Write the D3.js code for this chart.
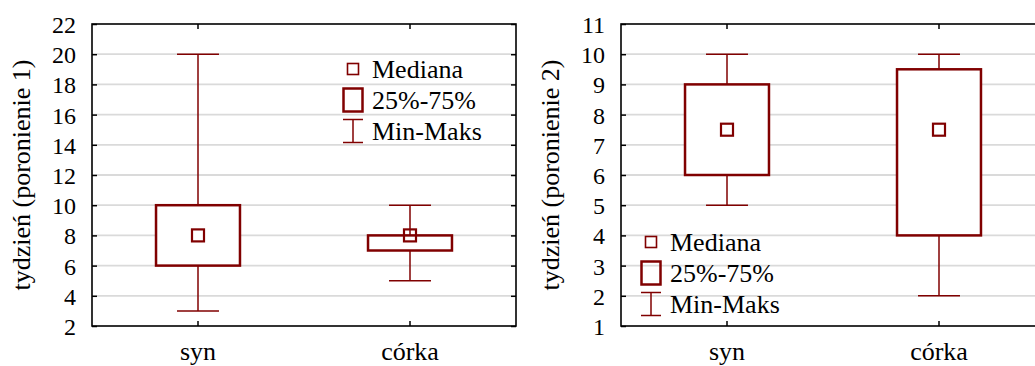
<!DOCTYPE html>
<html>
<head>
<meta charset="utf-8">
<script src="https://cdn.jsdelivr.net/npm/d3@7"></script>
</head>
<body style="margin:0">
<svg id="chart" width="1035" height="366"></svg>
<script>
// Categories shared by both panels
const categories = ["syn", "córka"];

// Panel 1: week of first miscarriage
const title1 = "tydzień (poronienie 1)";
const ticks1 = [2, 4, 6, 8, 10, 12, 14, 16, 18, 20, 22];
const min1 = [3, 5];
const q1_1 = [6, 7];
const median1 = [8, 8];
const q3_1 = [10, 8];
const max1 = [20, 10];

// Panel 2: week of second miscarriage
const title2 = "tydzień (poronienie 2)";
const ticks2 = [1, 2, 3, 4, 5, 6, 7, 8, 9, 10, 11];
const min2 = [5, 2];
const q1_2 = [6, 4];
const median2 = [7.5, 7.5];
const q3_2 = [9, 9.5];
const max2 = [10, 10];

// Legend entries
const legendLabels = ["Mediana", "25%-75%", "Min-Maks"];

const RED = "#800000";
const svg = d3.select("#chart");

// every label is placed straight on the svg root
function label(str, x, y, size, anchor, rotate) {
  const t = svg.append("text")
    .attr("x", x).attr("y", y)
    .attr("font-size", size)
    .attr("text-anchor", anchor || "start")
    .style("font-family", '"Liberation Serif", monospace')
    .text(str);
  if (rotate) t.attr("transform", `rotate(${rotate},${x},${y})`);
  return t;
}

function panel(opts) {
  const left = opts.left, top = 24, width = 424, height = 302;
  const g = svg.append("g");

  const y = d3.scaleLinear()
    .domain([opts.ticks[0], opts.ticks[opts.ticks.length - 1]])
    .range([top + height, top]);
  const x = d3.scaleBand().domain(categories).range([left, left + width]).padding(0);
  const cx = c => x(c) + x.bandwidth() / 2;

  // horizontal grid
  g.append("g").selectAll("line")
    .data(opts.ticks.slice(1, -1))
    .join("line")
    .attr("x1", left).attr("x2", left + width)
    .attr("y1", d => y(d)).attr("y2", d => y(d))
    .attr("stroke", "#dadada").attr("stroke-width", 1.8);

  const rows = categories.map((c, i) => ({
    c, min: opts.min[i], q1: opts.q1[i], med: opts.median[i], q3: opts.q3[i], max: opts.max[i]
  }));

  const boxW = x.bandwidth() * 0.396;
  const capW = x.bandwidth() * 0.198;
  const medS = 12;

  const bx = g.append("g").selectAll("g").data(rows).join("g");
  // whisker stem
  bx.append("line")
    .attr("x1", d => cx(d.c)).attr("x2", d => cx(d.c))
    .attr("y1", d => y(d.max)).attr("y2", d => y(d.min))
    .attr("stroke", RED).attr("stroke-width", 1.5);
  // caps
  bx.selectAll("line.cap")
    .data(d => [d.min, d.max].map(v => ({ c: d.c, v })))
    .join("line").attr("class", "cap")
    .attr("x1", d => cx(d.c) - capW / 2).attr("x2", d => cx(d.c) + capW / 2)
    .attr("y1", d => y(d.v)).attr("y2", d => y(d.v))
    .attr("stroke", RED).attr("stroke-width", 1.5);
  // interquartile box
  bx.append("rect")
    .attr("x", d => cx(d.c) - boxW / 2)
    .attr("y", d => y(d.q3))
    .attr("width", boxW)
    .attr("height", d => y(d.q1) - y(d.q3))
    .attr("fill", "#fff").attr("stroke", RED).attr("stroke-width", 2.5);
  // median marker
  bx.append("rect")
    .attr("x", d => cx(d.c) - medS / 2)
    .attr("y", d => y(d.med) - medS / 2)
    .attr("width", medS).attr("height", medS)
    .attr("fill", "none").attr("stroke", RED).attr("stroke-width", 2.2);

  // inward tick marks on all four sides
  const tickStyle = s => {
    s.select(".domain").remove();
    s.selectAll("line").attr("stroke", "#000").attr("stroke-width", 1.5);
  };
  g.append("g").attr("transform", `translate(${left},0)`)
    .call(d3.axisLeft(y).tickValues(opts.ticks).tickSize(-5).tickFormat("")).call(tickStyle);
  g.append("g").attr("transform", `translate(${left + width},0)`)
    .call(d3.axisRight(y).tickValues(opts.ticks).tickSize(-5).tickFormat("")).call(tickStyle);
  g.append("g").attr("transform", `translate(0,${top + height})`)
    .call(d3.axisBottom(x).tickSize(-5).tickFormat("")).call(tickStyle);
  g.append("g").attr("transform", `translate(0,${top})`)
    .call(d3.axisTop(x).tickSize(-5).tickFormat("")).call(tickStyle);

  // frame
  g.append("rect")
    .attr("x", left).attr("y", top).attr("width", width).attr("height", height)
    .attr("fill", "none").attr("stroke", "#000").attr("stroke-width", 1.6);

  // tick labels from the scales
  opts.ticks.forEach(v => label(String(v), left - 16, y(v) + 9, 24, "end"));
  categories.forEach(c => label(c, cx(c), top + height + 34, 26, "middle"));

  // axis title
  label(opts.title, left - 62, top + height / 2, 26, "middle", -90);

  // legend
  const lx = left + opts.legendDx, ly = opts.legendY, step = 31;
  const lg = svg.append("g");
  lg.append("rect").attr("x", lx - 5.5).attr("y", ly - 5.5).attr("width", 11).attr("height", 11)
    .attr("fill", "none").attr("stroke", RED).attr("stroke-width", 1.6);
  lg.append("rect").attr("x", lx - 9.5).attr("y", ly + step - 11.5).attr("width", 19).attr("height", 23)
    .attr("fill", "none").attr("stroke", RED).attr("stroke-width", 2.5);
  lg.append("line").attr("x1", lx).attr("x2", lx)
    .attr("y1", ly + 2 * step - 11.5).attr("y2", ly + 2 * step + 11.5)
    .attr("stroke", RED).attr("stroke-width", 1.5);
  lg.selectAll("line.c").data([-11.5, 11.5]).join("line").attr("class", "c")
    .attr("x1", lx - 10).attr("x2", lx + 10)
    .attr("y1", d => ly + 2 * step + d).attr("y2", d => ly + 2 * step + d)
    .attr("stroke", RED).attr("stroke-width", 1.5);
  legendLabels.forEach((t, i) => label(t, lx + 19, ly + i * step + 9, 26, "start"));
}

panel({ left: 92, ticks: ticks1, min: min1, q1: q1_1, median: median1, q3: q3_1, max: max1,
        title: title1, legendDx: 261, legendY: 69 });
panel({ left: 621, ticks: ticks2, min: min2, q1: q1_2, median: median2, q3: q3_2, max: max2,
        title: title2, legendDx: 30, legendY: 242 });
</script>
</body>
</html>
